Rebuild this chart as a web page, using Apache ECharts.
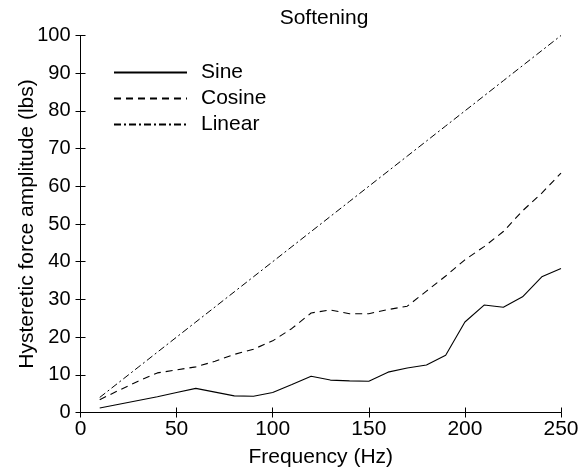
<!DOCTYPE html>
<html>
<head>
<meta charset="utf-8">
<script src="https://cdn.jsdelivr.net/npm/echarts@6/dist/echarts.min.js"></script>
<style>
html,body{margin:0;padding:0;background:#fff;}
#chart{width:579px;height:474px;}
</style>
</head>
<body>
<div id="chart"></div>
<script>
const frequency = [10,20,30,40,50,60,70,80,90,100,110,120,130,140,150,160,170,180,190,200,210,220,230,240,250];
const sine   = [1.2,2.2,3.2,4.2,5.3,6.4,5.4,4.4,4.3,5.3,7.4,9.6,8.6,8.4,8.3,10.7,11.8,12.6,15.2,24.0,28.5,27.9,30.7,36.0,38.2];
const cosine = [3.4,5.9,8.3,10.5,11.3,12.1,13.6,15.4,16.8,19.0,22.3,26.4,27.2,26.2,26.2,27.3,28.2,32.2,36.2,40.5,44.0,48.0,53.5,58.2,63.5];
const linear = [4,8,12,16,20,24,28,32,36,40,44,48,52,56,60,64,68,72,76,80,84,88,92,96,100];
const xTicks = [0,50,100,150,200,250];
const yTicks = [0,10,20,30,40,50,60,70,80,90,100];

const FONT = 'Liberation Sans, Arial, Helvetica, sans-serif';
const pair = (xs, ys) => xs.map((x, i) => [x, ys[i]]);

const chart = echarts.init(document.getElementById('chart'), null, {renderer: 'canvas'});
const tickStyle = {show: true, inside: true, length: 5, lineStyle: {color: '#000', width: 1}};
const axisLine = {show: true, lineStyle: {color: '#000', width: 1}};

chart.setOption({
  animation: false,
  backgroundColor: '#fff',
  title: {
    text: 'Softening', left: 319, top: 3, textAlign: 'center',
    textStyle: {fontFamily: FONT, fontSize: 21, fontWeight: 'normal', color: '#000'}
  },
  grid: {left: 80.5, right: 18, top: 35.5, bottom: 61.5, containLabel: false, outerBoundsMode: 'none'},
  legend: {
    orient: 'vertical', left: 108, top: 57,
    itemWidth: 73, itemHeight: 14, itemGap: 5,
    itemStyle: {opacity: 0},
    textStyle: {fontFamily: FONT, fontSize: 21, color: '#000', padding: [0, 0, 0, 9]},
    data: ['Sine', 'Cosine', 'Linear']
  },
  xAxis: [{
    type: 'value', min: 0, max: 250, interval: 50,
    name: 'Frequency (Hz)', nameLocation: 'middle', nameGap: 34, nameMoveOverlap: false,
    nameTextStyle: {fontFamily: FONT, fontSize: 21, color: '#000'},
    axisLine: axisLine, axisTick: tickStyle,
    axisLabel: {fontFamily: FONT, fontSize: 21, color: '#000', margin: 6},
    splitLine: {show: false}
  }, {
    type: 'value', position: 'top', min: 0, max: 250, interval: 50,
    axisLine: axisLine, axisTick: tickStyle, axisLabel: {show: false}, splitLine: {show: false}
  }],
  yAxis: [{
    type: 'value', min: 0, max: 100, interval: 10,
    name: 'Hysteretic force amplitude (lbs)', nameLocation: 'middle', nameGap: 43, nameMoveOverlap: false,
    nameTextStyle: {fontFamily: FONT, fontSize: 21, color: '#000'},
    axisLine: axisLine, axisTick: tickStyle,
    axisLabel: {fontFamily: FONT, fontSize: 20, color: '#000', margin: 10},
    splitLine: {show: false}
  }, {
    type: 'value', position: 'right', min: 0, max: 100, interval: 10,
    axisLine: axisLine, axisTick: tickStyle, axisLabel: {show: false}, splitLine: {show: false}
  }],
  series: [
    {name: 'Sine', type: 'line', data: pair(frequency, sine), symbol: 'none',
     lineStyle: {color: '#000', width: 1.1, type: 'solid'}, itemStyle: {color: '#000'}},
    {name: 'Cosine', type: 'line', data: pair(frequency, cosine), symbol: 'none',
     lineStyle: {color: '#000', width: 1.1, type: [7, 5]}, itemStyle: {color: '#000'}},
    {name: 'Linear', type: 'line', data: pair(frequency, linear), symbol: 'none',
     lineStyle: {color: '#000', width: 1, type: [7, 3, 2, 3]}, itemStyle: {color: '#000'}}
  ]
});
</script>
</body>
</html>
